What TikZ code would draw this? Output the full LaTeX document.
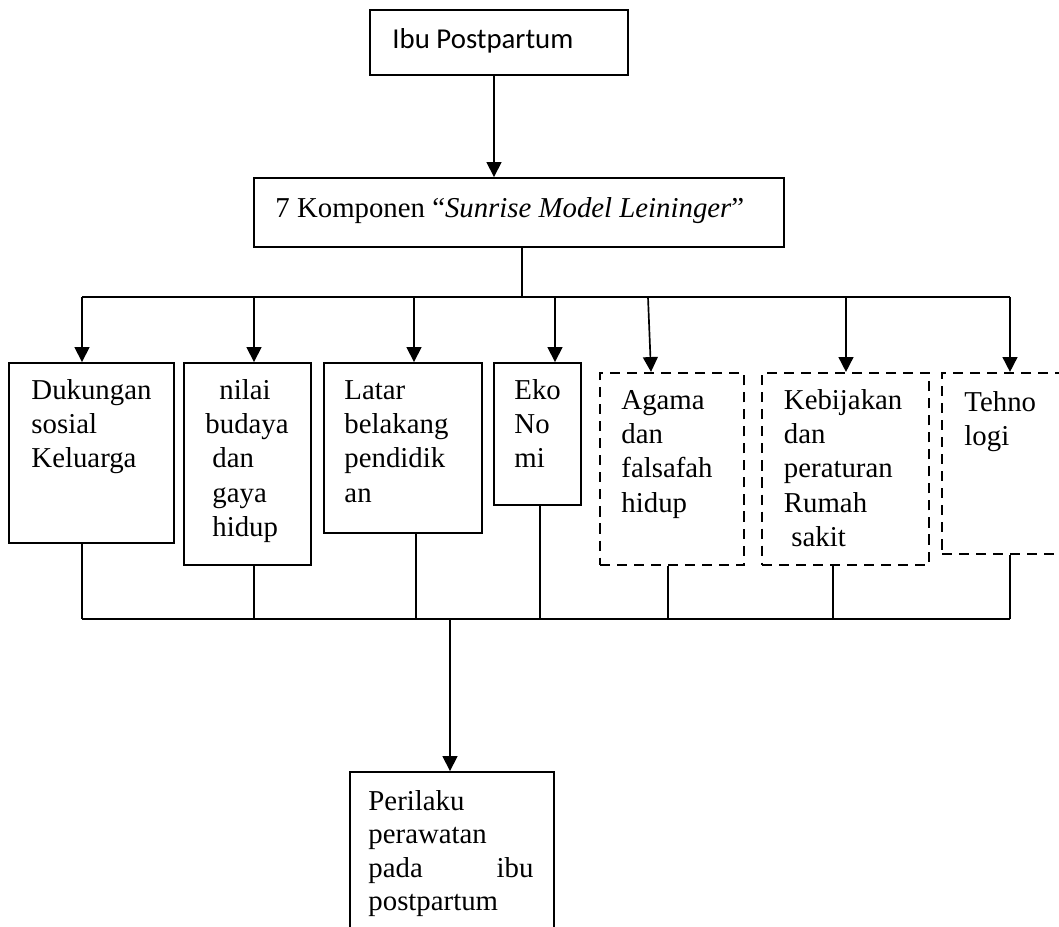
\documentclass[tikz,border=0pt]{standalone}
\usepackage{fontspec}
\setmainfont{Liberation Serif}
\newfontfamily\calibri{Carlito}
\usetikzlibrary{arrows.meta,fit}
\newcommand{\lns}[1]{\begin{tabular}[t]{@{}l@{}}#1\end{tabular}}
\begin{document}
\begin{tikzpicture}[x=0.41667pt,y=-0.41667pt,
  box/.style={draw, line width=0.8pt, inner sep=0pt},
  dbox/.style={draw, line width=0.9pt, dash pattern=on 4.2pt off 2.9pt, inner sep=0pt},
  txt/.style={anchor=base west, inner sep=0pt, font=\fontsize{12}{14.3}\selectfont},
  con/.style={line width=0.7pt},
  lowcon/.style={line width=0.55pt},
  arr/.style={line width=0.7pt, -{Triangle[width=6.2pt,length=6.2pt]}},
]
\useasboundingbox (0,0) rectangle (1059,926);

% boxes
\node[box, fit={(370,10) (628,75)}] (top) {};
\node[box, fit={(254,178) (784,247)}] (mid) {};
\node[box, fit={(9,363) (174,543)}] (b1) {};
\node[box, fit={(184,363) (311,565)}] (b2) {};
\node[box, fit={(324,363) (482,533)}] (b3) {};
\node[box, fit={(494,363) (581,505)}] (b4) {};
\node[dbox, fit={(600,373) (744,565)}] (b5) {};
\node[dbox, fit={(762,373) (929,565)}] (b6) {};
\node[dbox, fit={(942,373) (1075,554)}] (b7) {};
\node[box, fit={(350,772) (554,940)}] (res) {};

% texts
\node[txt, font=\calibri\fontsize{12}{14.3}\selectfont] (ttop) at (392,48) {Ibu Postpartum};
\node[txt] (tmid) at (275,217) {7 Komponen “\textit{Sunrise Model Leininger}”};
\node[txt] (t1) at (31,399.3) {\lns{Dukungan\\sosial\\Keluarga}};
\node[txt] (t2) at (205,399.3) {\lns{\hspace*{5.8pt}nilai\\budaya\\\hspace*{2.9pt}dan\\\hspace*{2.9pt}gaya\\\hspace*{2.9pt}hidup}};
\node[txt] (t3) at (344,399.3) {\lns{Latar\\belakang\\pendidik\\an}};
\node[txt] (t4) at (514,399.3) {\lns{Eko\\No\\mi}};
\node[txt] (t5) at (621,409.3) {\lns{Agama\\dan\\falsafah\\hidup}};
\node[txt] (t6) at (783.5,409.3) {\lns{Kebijakan\\dan\\peraturan\\Rumah\\\hspace*{3.1pt}sakit}};
\node[txt] (t7) at (964,411) {\lns{Tehno\\logi}};
\node[txt, font=\fontsize{12}{14}\selectfont] (tres) at (368,810) {\lns{Perilaku\\perawatan\\\makebox[68.75pt][l]{pada\hfill ibu}\\postpartum}};

% top connectors
\coordinate (a0) at (494,0);
\draw[arr] (top.south -| a0) -- (mid.north -| a0);
\coordinate (s0) at (522,297);
\draw[con] (mid.south -| s0) -- (s0);
\coordinate (h1) at (82,297);
\coordinate (h2) at (254,297);
\coordinate (h3) at (414,297);
\coordinate (h4) at (555,297);
\coordinate (h5) at (648,297);
\coordinate (h5e) at (651,0);
\coordinate (h6) at (846,297);
\coordinate (h7) at (1010,297);
\draw[con] (h1) -- (h7);
\draw[arr] (h1) -- (h1 |- b1.north);
\draw[arr] (h2) -- (h2 |- b2.north);
\draw[arr] (h3) -- (h3 |- b3.north);
\draw[arr] (h4) -- (h4 |- b4.north);
\draw[arr] (h5) -- (h5e |- b5.north);
\draw[arr] (h6) -- (h6 |- b6.north);
\draw[arr] (h7) -- (h7 |- b7.north);

% bottom connectors
\coordinate (u1) at (82,619);
\coordinate (u2) at (254,619);
\coordinate (u3) at (416,619);
\coordinate (u4) at (540,619);
\coordinate (u5) at (668,619);
\coordinate (u6) at (833,619);
\coordinate (u7) at (1010,619);
\coordinate (uc) at (450,619);
\draw[lowcon] (u1) -- (u7);
\draw[lowcon] (b1.south -| u1) -- (u1);
\draw[lowcon] (b2.south -| u2) -- (u2);
\draw[lowcon] (b3.south -| u3) -- (u3);
\draw[lowcon] (b4.south -| u4) -- (u4);
\draw[lowcon] (b5.south -| u5) -- (u5);
\draw[lowcon] (b6.south -| u6) -- (u6);
\draw[lowcon] (b7.south -| u7) -- (u7);
\draw[arr] (uc) -- (uc |- res.north);
\end{tikzpicture}
\end{document}
